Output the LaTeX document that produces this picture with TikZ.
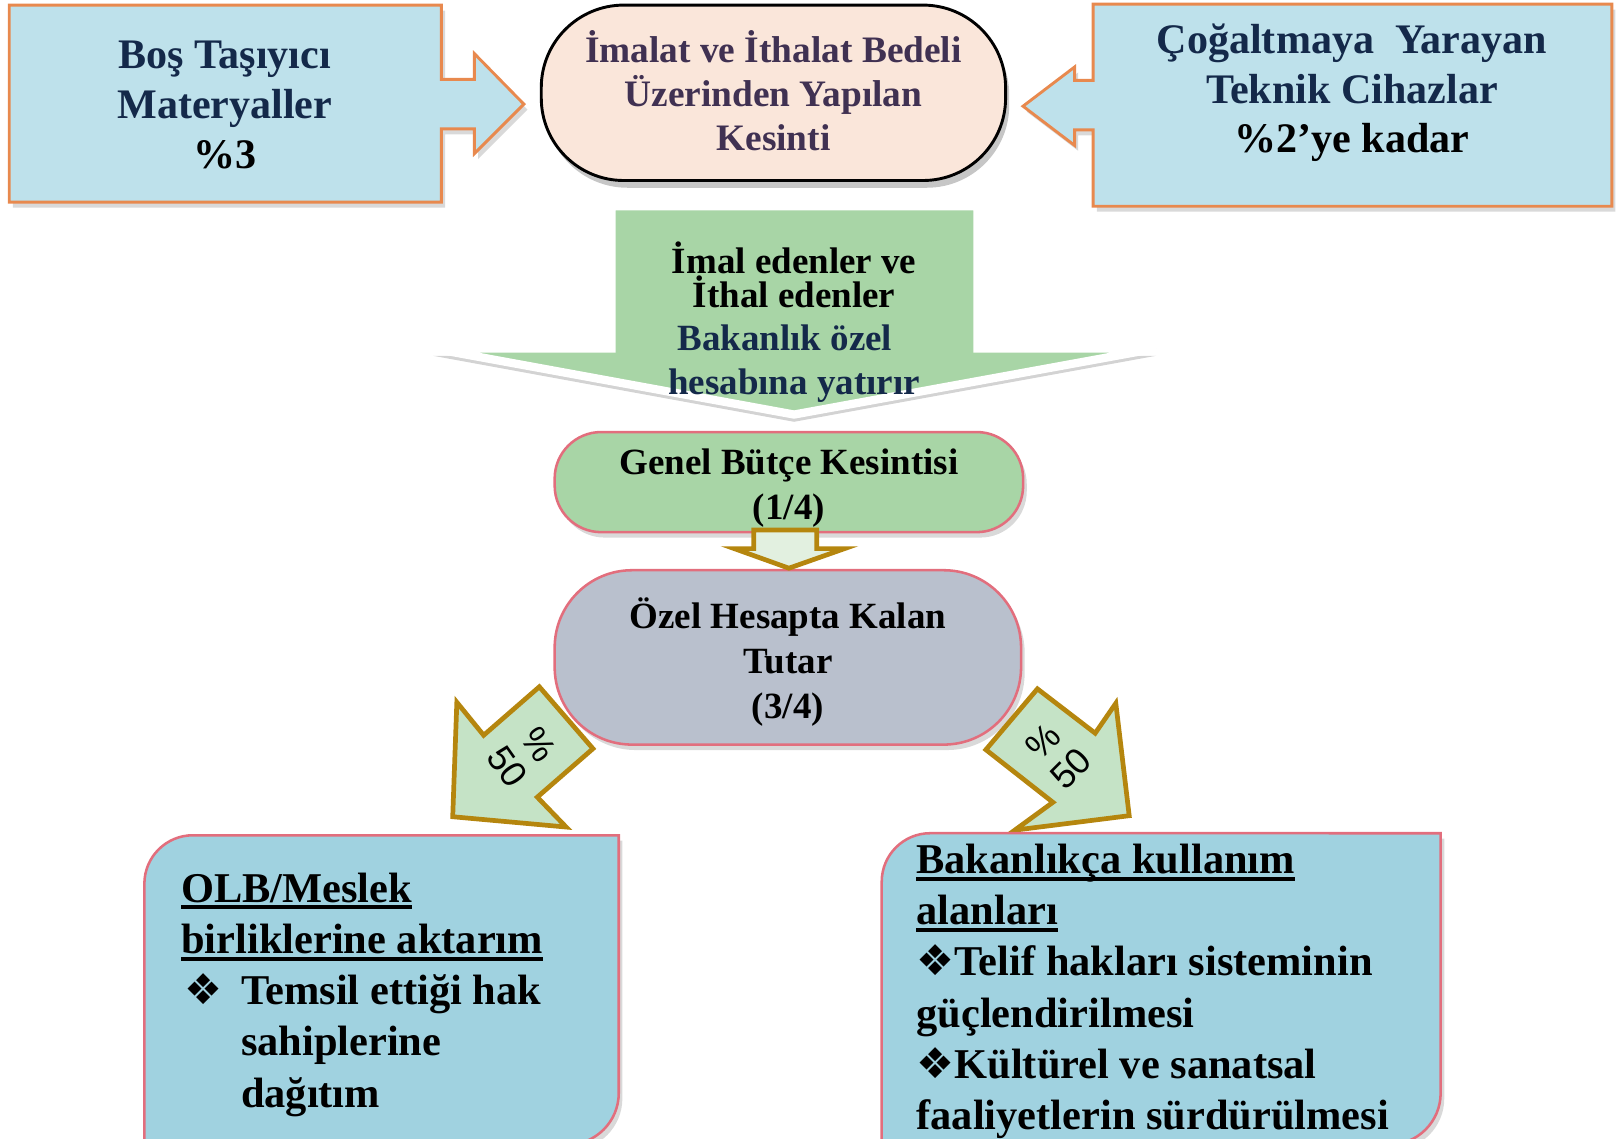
\documentclass[tikz,border=0pt]{standalone}
\usepackage{fontspec}
\setmainfont{Liberation Serif}
\newfontfamily\pctfont{Liberation Sans}
\newfontfamily\symfont{DejaVu Sans}
\usetikzlibrary{shadows}
\definecolor{topblue}{HTML}{BEE1EB}
\definecolor{topedge}{HTML}{E8894E}
\definecolor{peach}{HTML}{FAE6DA}
\definecolor{plum}{HTML}{403152}
\definecolor{navy}{HTML}{14294A}
\definecolor{leaf}{HTML}{A8D5A6}
\definecolor{slate}{HTML}{B9C0CD}
\definecolor{rose}{HTML}{E26E7D}
\definecolor{gold}{HTML}{B5860E}
\definecolor{mint}{HTML}{E2F0E0}
\definecolor{pale}{HTML}{C5E3C6}
\definecolor{sky}{HTML}{A0D2E0}
\newsavebox\ulbox
\newcommand{\ulin}[1]{\sbox\ulbox{#1}\rlap{\rule[-1.9pt]{\wd\ulbox}{1.1pt}}\usebox\ulbox}
\newcommand{\dia}{{\symfont ❖}}
\begin{document}
\begin{tikzpicture}[x=0.01cm,y=0.01cm,
	shade/.style={drop shadow={opacity=0.3,shadow xshift=1pt,shadow yshift=-1.5pt}},
	sidebox/.style={draw=topedge,line width=0.8pt,fill=topblue,shade},
	sidetext/.style={align=center,inner sep=0pt,text=navy,font=\fontsize{11.6pt}{13.7pt}\selectfont\bfseries},
	pill/.style={draw=rose,line width=0.7pt,align=center,inner sep=0pt,font=\fontsize{10.2pt}{12.3pt}\selectfont\bfseries,shade},
	goldarrow/.style={draw=gold,line width=1.3pt,line join=miter},
	pct/.style={align=center,inner sep=0pt,font=\fontsize{10pt}{10.5pt}\pctfont},
	endbox/.style={draw=rose,line width=0.7pt,fill=sky,shade},
	endtext/.style={align=left,anchor=north west,inner sep=0pt,font=\fontsize{11.7pt}{14.1pt}\selectfont\bfseries}]
	\useasboundingbox (0,0) rectangle (1568,-1104);
	\draw[sidebox] (9,-5) -- (428,-5) -- (428,-77) -- (460,-77) -- (460,-52) -- (508,-101) -- (460,-149) -- (460,-125) -- (428,-125) -- (428,-196) -- (9,-196) -- cycle;
	\node (bos) at (218,-102) [sidetext] {Boş Taşıyıcı\\Materyaller\\\textcolor{black}{\%3}};
	\draw[sidebox] (1060,-4) -- (1563,-4) -- (1563,-200) -- (1060,-200) -- (1060,-126) -- (1042,-126) -- (1042,-141) -- (992,-103) -- (1042,-65) -- (1042,-78) -- (1060,-78) -- cycle;
	\node (cihaz) at (1311,-90) [sidetext] {Çoğaltmaya~ Yarayan\\Teknik Cihazlar\\\textcolor{black}{\%2’ye kadar}};
	\node (imalat) at (750,-90) [draw=black,line width=0.8pt,fill=peach,rounded corners=0.8cm,minimum width=4.5cm,minimum height=1.7cm,align=center,text=plum,font=\fontsize{10.3pt}{12.2pt}\selectfont\bfseries,drop shadow={opacity=0.45,shadow xshift=1pt,shadow yshift=-2pt}] {İmalat ve İthalat Bedeli\\Üzerinden Yapılan\\Kesinti\rule[-1.2pt]{0pt}{0pt}};
	\draw[draw=white,line width=0.08cm,fill=leaf,drop shadow={opacity=0.35,shadow xshift=0pt,shadow yshift=-2pt}] (593,-200) -- (948,-200) -- (948,-338) -- (1121,-338) -- (770,-402) -- (420,-338) -- (593,-338) -- cycle;
	\node (yatir) at (770,-312) [align=center,inner sep=0pt,font=\fontsize{10.2pt}{11.9pt}\selectfont\bfseries] {İmal edenler ve\\[-2.3pt]İthal edenler\\\textcolor{navy}{Bakanlık özel}\hphantom{x}\\\textcolor{navy}{hesabına yatırır}};
	\node (genel) at (765,-467.5) [pill,fill=leaf,rounded corners=0.45cm,minimum width=4.54cm,minimum height=0.97cm] {\rule{0pt}{10.3pt}Genel Bütçe Kesintisi\\(1/4)};
	\node (ozel) at (764,-637.5) [pill,fill=slate,rounded corners=0.75cm,minimum width=4.52cm,minimum height=1.69cm,font=\fontsize{10.2pt}{12.5pt}\selectfont\bfseries] {\rule{0pt}{11.1pt}Özel Hesapta Kalan\\Tutar\\(3/4)};
	\draw[goldarrow,fill=mint] (731,-514) -- (792,-514) -- (792,-532) -- (819,-532) -- (765,-551) -- (712,-532) -- (731,-532) -- cycle;
	\draw[goldarrow,fill=pale] (443,-681) -- (469,-713) -- (523,-666) -- (575,-726) -- (521,-773) -- (549,-802) -- (439,-792) -- cycle;
	\node (solpay) at (507,-733) [pct,rotate=-55] {\%\\50};
	\draw[goldarrow,fill=pale] (1006,-668) -- (1062,-711) -- (1082,-682) -- (1095,-791) -- (984,-805) -- (1021,-778) -- (956,-727) -- cycle;
	\node (sagpay) at (1025,-732) [pct,rotate=45] {\%\\50};
	\draw[endbox] (140,-1110) -- (140,-857) arc[start angle=180,end angle=90,radius=0.47cm] -- (600,-810) -- (600,-1060) arc[start angle=0,end angle=-90,radius=0.5cm] -- cycle;
	\node (olb) at (175,-846) [endtext] {\ulin{OLB/Meslek}\\\ulin{birliklerine aktarım}\\\makebox[16.5pt][l]{\hspace{0.8pt}\dia}Temsil ettiği hak\\\hspace{16.5pt}sahiplerine\\\hspace{16.5pt}dağıtım};
	\draw[endbox] (855,-1110) -- (855,-855) arc[start angle=180,end angle=90,radius=0.47cm] -- (1397,-808) -- (1397,-1060) arc[start angle=0,end angle=-90,radius=0.5cm] -- cycle;
	\node (bakan) at (888,-818) [endtext] {\ulin{Bakanlıkça kullanım}\\\ulin{alanları}\\\dia Telif hakları sisteminin\\güçlendirilmesi\\\dia Kültürel ve sanatsal\\faaliyetlerin sürdürülmesi};
\end{tikzpicture}
\end{document}
